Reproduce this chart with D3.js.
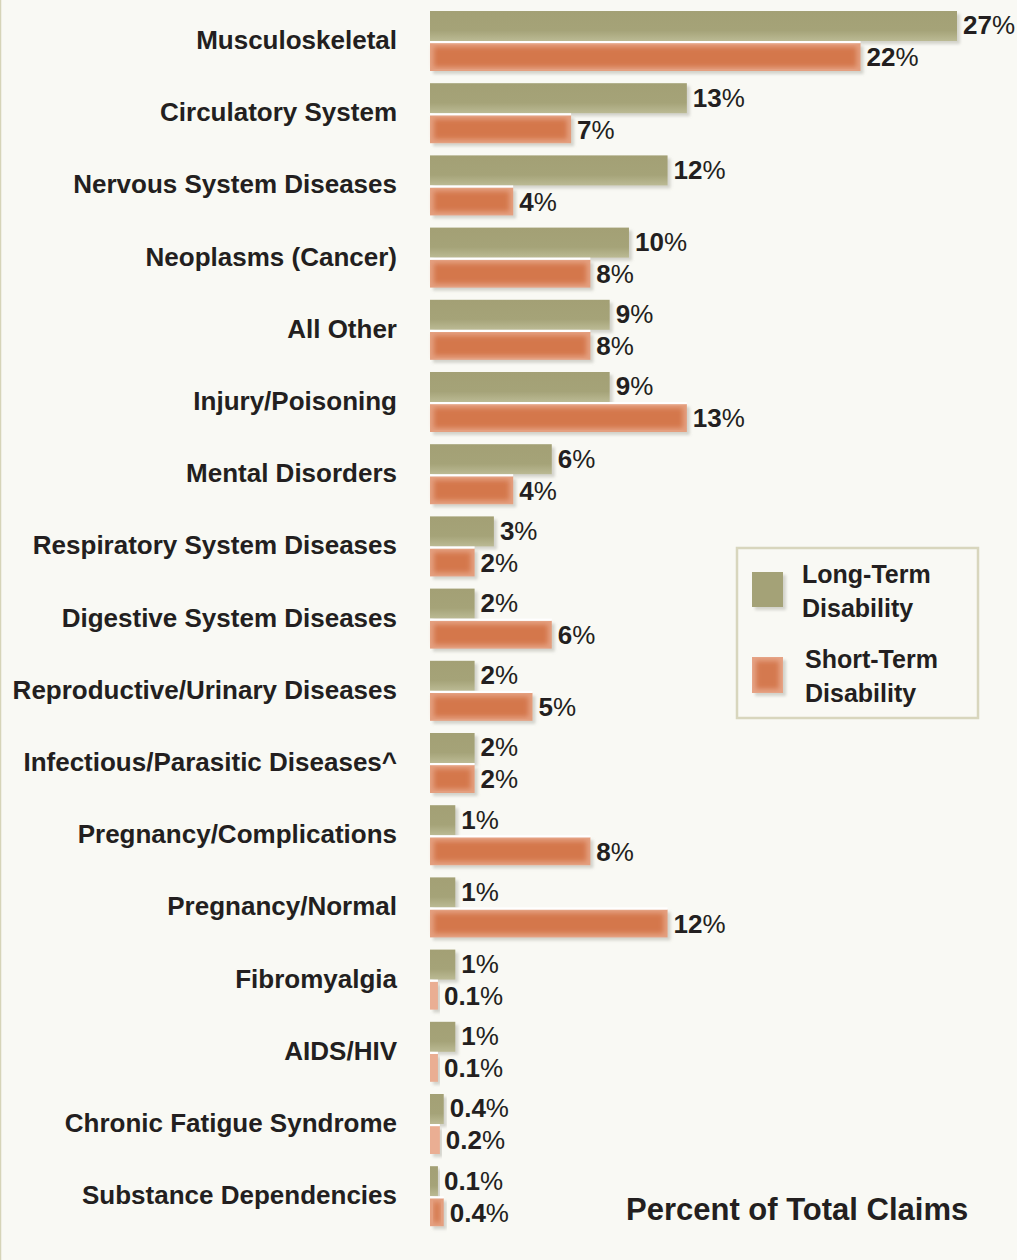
<!DOCTYPE html>
<html>
<head>
<meta charset="utf-8">
<script src="https://cdn.jsdelivr.net/npm/d3@7"></script>
<style>
  body { margin: 0; background: #f9f9f4; }
  svg { display: block; }
  text { font-family: "Liberation Sans", Arial, sans-serif; fill: #231f20; }
</style>
</head>
<body>
<div id="chart"></div>
<script>
'use strict';

let categories = [
    "Musculoskeletal", "Circulatory System", "Nervous System Diseases",
    "Neoplasms (Cancer)", "All Other", "Injury/Poisoning", "Mental Disorders",
    "Respiratory System Diseases", "Digestive System Diseases",
    "Reproductive/Urinary Diseases", "Infectious/Parasitic Diseases^",
    "Pregnancy/Complications", "Pregnancy/Normal", "Fibromyalgia",
    "AIDS/HIV", "Chronic Fatigue Syndrome", "Substance Dependencies"
];
let longTerm  = [27, 13, 12, 10, 9, 9, 6, 3, 2, 2, 2, 1, 1, 1, 1, 0.4, 0.1];
let shortTerm = [22, 7, 4, 8, 8, 13, 4, 2, 6, 5, 2, 8, 12, 0.1, 0.1, 0.2, 0.4];
let seriesNames = ["Long-Term Disability", "Short-Term Disability"];
let axisTitle = "Percent of Total Claims";

let width = 1017;
let height = 1260;
let x0 = 430;

let rows = categories.map(function(c, i) {
    return { cat: c, ltd: longTerm[i], std: shortTerm[i] };
});

let x = d3.scaleLinear().domain([0, 27]).range([6, 527]);
let y = d3.scaleBand().domain(categories).range([11, 11 + categories.length * 72.2]);

let svg = d3.select("#chart").append("svg")
    .attr("width", width)
    .attr("height", height);

let defs = svg.append("defs");
let shadow = defs.append("filter").attr("id", "shadow")
    .attr("x", "-20%").attr("y", "-20%").attr("width", "140%").attr("height", "160%");
shadow.append("feDropShadow")
    .attr("dx", 3).attr("dy", 3).attr("stdDeviation", 1.5)
    .attr("flood-color", "#8a8a80").attr("flood-opacity", 0.35);

let blur = defs.append("filter").attr("id", "soft");
blur.append("feGaussianBlur").attr("stdDeviation", 2.5);

let grad = defs.append("linearGradient").attr("id", "olive")
    .attr("x1", 0).attr("y1", 0).attr("x2", 0).attr("y2", 1);
grad.append("stop").attr("offset", "0%").attr("stop-color", "#a3a075");
grad.append("stop").attr("offset", "65%").attr("stop-color", "#a5a378");
grad.append("stop").attr("offset", "100%").attr("stop-color", "#bbba94");

// background + thin left border
svg.append("rect").attr("width", width).attr("height", height).attr("fill", "#f9f9f4");
svg.append("line")
    .attr("x1", 0.5).attr("x2", 0.5).attr("y1", 0).attr("y2", height)
    .attr("stroke", "#d6d4b8").attr("stroke-width", 1.5);

let g = svg.append("g").attr("transform", "translate(" + x0 + ",0)");

let row = g.selectAll(".row")
    .data(rows)
    .enter().append("g")
        .attr("class", "row")
        .attr("transform", function(d) { return "translate(0," + y(d.cat) + ")"; });

// long-term bars
row.append("rect")
    .attr("x", 0).attr("y", 0)
    .attr("width", function(d) { return x(d.ltd); })
    .attr("height", 30)
    .attr("fill", "url(#olive)")
    .attr("filter", "url(#shadow)");

// short-term bars: light edge, blurred darker core
row.append("rect")
    .attr("x", 0).attr("y", 32)
    .attr("width", function(d) { return x(d.std); })
    .attr("height", 28)
    .attr("fill", function(d) { return x(d.std) < 12 ? "#eaae93" : "#e49f7f"; })
    .attr("filter", "url(#shadow)");

row.filter(function(d) { return x(d.std) >= 12; })
    .append("rect")
    .attr("x", 4).attr("y", 36)
    .attr("width", function(d) { return x(d.std) - 8; })
    .attr("height", 20)
    .attr("fill", "#d4774c")
    .attr("filter", "url(#soft)");

// white highlight on top of short-term bars
row.append("rect")
    .attr("x", 0).attr("y", 30)
    .attr("width", function(d) { return x(d.std); })
    .attr("height", 2.2)
    .attr("fill", "#ffffff");

// category labels
row.append("text")
    .attr("x", 397 - x0)
    .attr("y", 29)
    .attr("dy", "0.35em")
    .attr("text-anchor", "end")
    .style("font-size", "26px")
    .style("font-weight", "bold")
    .text(function(d) { return d.cat; });

function valueLabel(sel, key, yc) {
    let t = sel.append("text")
        .attr("x", function(d) { return x(d[key]) + 6; })
        .attr("y", yc)
        .attr("dy", "0.36em")
        .style("font-size", "26px")
        .style("font-weight", "bold");
    t.append("tspan").text(function(d) { return d[key]; });
    t.append("tspan").style("font-weight", "normal").text("%");
}
valueLabel(row, "ltd", 14);
valueLabel(row, "std", 46);

// legend
let legend = svg.append("g").attr("transform", "translate(737,548)");
legend.append("rect")
    .attr("width", 241).attr("height", 170)
    .attr("fill", "none")
    .attr("stroke", "#d8d6bd").attr("stroke-width", 2.5);

legend.append("rect")
    .attr("x", 15).attr("y", 24).attr("width", 31).attr("height", 35)
    .attr("fill", "#a4a277").attr("filter", "url(#shadow)");
legend.append("rect")
    .attr("x", 15).attr("y", 109).attr("width", 31).attr("height", 36)
    .attr("fill", "#e6a385").attr("filter", "url(#shadow)");
legend.append("rect")
    .attr("x", 19).attr("y", 113).attr("width", 23).attr("height", 28)
    .attr("fill", "#d4794f").attr("filter", "url(#soft)");

let legendText = [
    { t: seriesNames[0], x: 65, y: 26 },
    { t: seriesNames[1], x: 68, y: 111 }
];
legendText.forEach(function(l) {
    let words = l.t.split(" ");
    let txt = legend.append("text")
        .attr("x", l.x).attr("y", l.y)
        .attr("dy", "0.36em")
        .style("font-size", "25px")
        .style("font-weight", "bold");
    txt.append("tspan").attr("x", l.x).text(words[0]);
    txt.append("tspan").attr("x", l.x).attr("dy", 34).text(words[1]);
});

svg.append("text")
    .attr("x", 626).attr("y", 1209)
    .attr("dy", "0.36em")
    .style("font-size", "31px")
    .style("font-weight", "bold")
    .text(axisTitle);
</script>
</body>
</html>
